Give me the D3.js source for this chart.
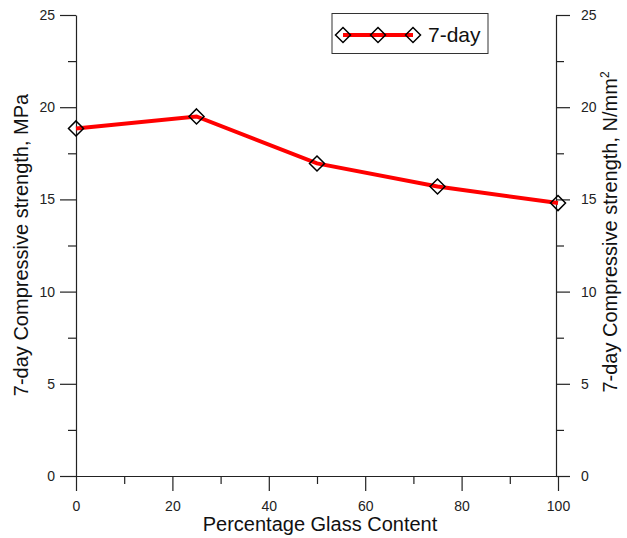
<!DOCTYPE html>
<html><head><meta charset="utf-8">
<script src="https://cdn.jsdelivr.net/npm/d3@7"></script>
<style>body{margin:0;background:#fff}svg{display:block;font-family:Arial,"Liberation Sans",sans-serif}</style>
</head><body><svg id="c" width="627" height="538"></svg>
<script>
const glassContent = [0, 25, 50, 75, 100];
const strength7day = [18.85, 19.5, 16.95, 15.7, 14.8];
const seriesName = "7-day";
const xTicks = [0, 20, 40, 60, 80, 100];
const yTicks = [0, 5, 10, 15, 20, 25];
const xTitle = "Percentage Glass Content";
const yTitleLeft = "7-day Compressive strength, MPa";
const yTitleRight = "7-day Compressive strength, N/mm";

const svg = d3.select("#c");
const x = d3.scaleLinear().domain([0, 100]).range([76, 558]);
const y = d3.scaleLinear().domain([0, 25]).range([476, 15]);
const axisColor = "#222";

// left axis
const gl = svg.append("g").attr("transform", `translate(${x(0)},0)`);
gl.call(d3.axisLeft(y).tickValues(yTicks).tickSize(16).tickPadding(5).tickSizeOuter(0));
gl.append("g").call(d3.axisLeft(y).tickValues(d3.range(2.5, 25, 5)).tickSize(8).tickFormat(""))
  .select(".domain").remove();
// right axis
const gr = svg.append("g").attr("transform", `translate(${x(100)-2},0)`);
gr.call(d3.axisRight(y).tickValues(yTicks).tickSize(14).tickPadding(11).tickSizeOuter(0));
gr.append("g").call(d3.axisRight(y).tickValues(d3.range(2.5, 25, 5)).tickSize(8).tickFormat(""))
  .select(".domain").remove();
// bottom axis
const gb = svg.append("g").attr("transform", `translate(0,${y(0)})`);
gb.call(d3.axisBottom(x).tickValues(xTicks).tickSize(15).tickPadding(10).tickSizeOuter(0));
gb.append("g").call(d3.axisBottom(x).tickValues(d3.range(10, 100, 20)).tickSize(8).tickFormat(""))
  .select(".domain").remove();

svg.selectAll(".tick text").attr("font-size", 14).attr("fill", axisColor).attr("font-family", "Arial, 'Liberation Sans', sans-serif");
svg.selectAll(".tick line").attr("stroke", axisColor).attr("stroke-width", 1.2);
svg.selectAll(".domain").attr("stroke", axisColor).attr("stroke-width", 1.2);

// line
const pts = glassContent.map((g, i) => [g, strength7day[i]]);
svg.append("path").datum(pts)
  .attr("d", d3.line().x(d => x(d[0])).y(d => y(d[1])))
  .attr("fill", "none").attr("stroke", "#ff0000").attr("stroke-width", 4);

const diamond = s => `M0,${-s}L${s},0L0,${s}L${-s},0Z`;
svg.selectAll(".pt").data(pts).join("path")
  .attr("d", diamond(7.5))
  .attr("transform", d => `translate(${x(d[0])},${y(d[1])})`)
  .attr("fill", "none").attr("stroke", "#000").attr("stroke-width", 1.5);

// legend
const lg = svg.append("g");
lg.append("rect").attr("x", 332).attr("y", 13.5).attr("width", 156).attr("height", 40)
  .attr("fill", "#fff").attr("stroke", "#333").attr("stroke-width", 1);
lg.append("line").attr("x1", 343).attr("x2", 413).attr("y1", 35).attr("y2", 35)
  .attr("stroke", "#ff0000").attr("stroke-width", 4);
[343, 378, 413].forEach(cx => lg.append("path").attr("d", diamond(7.5))
  .attr("transform", `translate(${cx},35)`).attr("fill", "none").attr("stroke", "#000").attr("stroke-width", 1.5));
lg.append("text").attr("x", 428).attr("y", 42).attr("font-size", 21).attr("fill", "#111").text(seriesName);

// titles
svg.append("text").attr("x", 320).attr("y", 531).attr("text-anchor", "middle")
  .attr("font-size", 20).attr("fill", "#111").text(xTitle);
svg.append("text").attr("transform", "translate(28,245) rotate(-90)").attr("text-anchor", "middle")
  .attr("font-size", 20).attr("fill", "#111").text(yTitleLeft);
const rt = svg.append("text").attr("transform", "translate(617,232) rotate(-90)").attr("text-anchor", "middle")
  .attr("font-size", 20).attr("fill", "#111");
rt.append("tspan").text(yTitleRight);
rt.append("tspan").attr("dy", -8).attr("font-size", 12).text("2");
</script></body></html>
